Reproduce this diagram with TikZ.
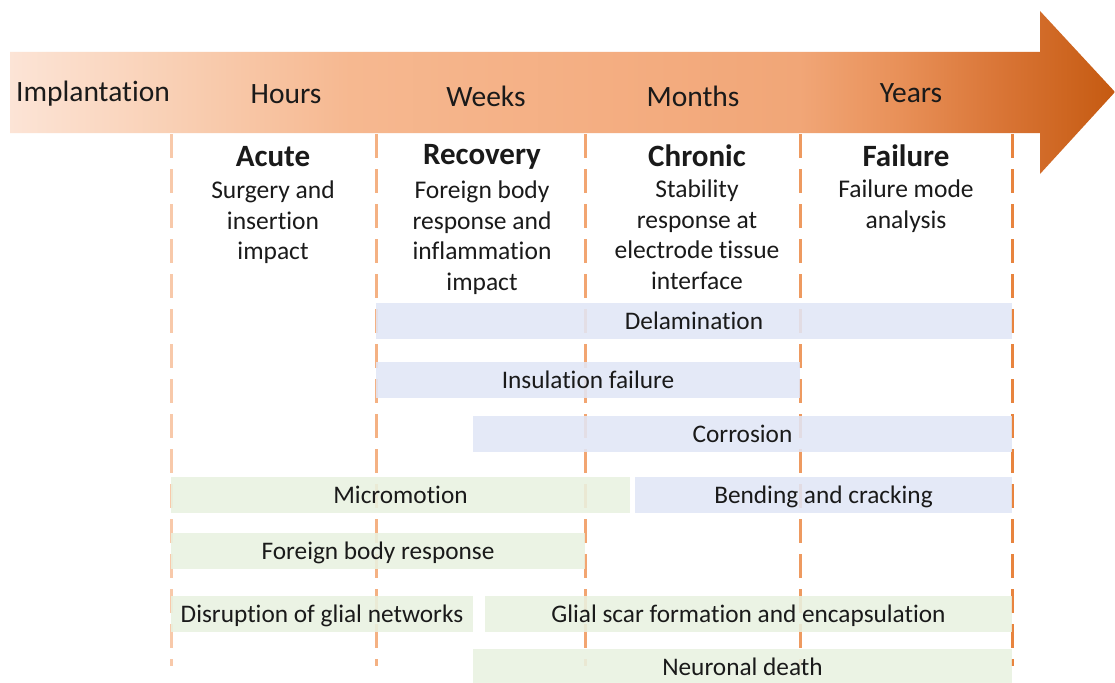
\documentclass[tikz,border=0pt]{standalone}
\usepackage{fontspec}
\setmainfont{Carlito}[Ligatures={NoCommon}]
\definecolor{arrL}{HTML}{FCE4D6}
\definecolor{arrB}{HTML}{F9D0B5}
\definecolor{arrC}{HTML}{F6B890}
\definecolor{arrM}{HTML}{F4AE82}
\definecolor{arrD}{HTML}{F1A677}
\definecolor{arrE}{HTML}{E89058}
\definecolor{arrF}{HTML}{D97536}
\definecolor{arrR}{HTML}{C55A11}
\pgfdeclarehorizontalshading{arrowshade}{100bp}{color(0bp)=(arrL); color(25bp)=(arrL); color(32.2bp)=(arrB); color(40.4bp)=(arrC); color(51.7bp)=(arrM); color(60.7bp)=(arrD); color(65.3bp)=(arrE); color(69.8bp)=(arrF); color(75bp)=(arrR); color(100bp)=(arrR)}
\definecolor{barblue}{HTML}{E1E6F6}
\definecolor{bargreen}{HTML}{E9F2E1}
\definecolor{dashA}{HTML}{F8C9AA}
\definecolor{dashB}{HTML}{F4B183}
\definecolor{dashC}{HTML}{F2A571}
\definecolor{dashD}{HTML}{EE9A60}
\definecolor{dashE}{HTML}{E8843E}
\definecolor{txt}{HTML}{1A1A1A}
\begin{document}
\begin{tikzpicture}[x=1pt,y=-1pt,
  hdr/.style={font=\fontsize{29.5}{30}\selectfont, text=txt, inner sep=0pt},
  ttl/.style={font=\fontsize{31}{32}\selectfont\bfseries, text=txt, inner sep=0pt},
  desc/.style={font=\fontsize{25.5}{30.5}\selectfont, text=txt, inner sep=0pt, align=center},
  bar/.style={inner sep=0pt, minimum height=36pt, text height=17pt, text depth=1pt, font=\fontsize{25.3}{30}\selectfont, text=txt, fill opacity=0.88, text opacity=1},
  bluebar/.style={bar, fill=barblue},
  greenbar/.style={bar, fill=bargreen},
  tick/.style={line width=3pt, dash pattern=on 24pt off 11pt}
]
\useasboundingbox (0,0) rectangle (1115,682);
\fill[white] (0,0) rectangle (1115,682);
% timeline arrow
\shade[shading=arrowshade]
  (10,52) -- (1040,52) -- (1040,11) -- (1115,92) -- (1040,174) -- (1040,133) -- (10,133) -- cycle;
% dashed dividers
\coordinate (d1t) at (171,134); \coordinate (d1b) at (171,666);
\coordinate (d2t) at (376,134); \coordinate (d2b) at (376,666);
\coordinate (d3t) at (585,134); \coordinate (d3b) at (585,666);
\coordinate (d4t) at (800,134); \coordinate (d4b) at (800,666);
\coordinate (d5t) at (1012,134); \coordinate (d5b) at (1012,666);
\draw[tick, draw=dashA] (d1t) -- (d1b);
\draw[tick, draw=dashB] (d2t) -- (d2b);
\draw[tick, draw=dashC] (d3t) -- (d3b);
\draw[tick, draw=dashD] (d4t) -- (d4b);
\draw[tick, draw=dashE] (d5t) -- (d5b);
% header labels
\node[hdr] (impl) at (93,94) {Implantation};
\node[hdr] (hours) at (286,94) {Hours};
\node[hdr] (weeks) at (486,96) {Weeks};
\node[hdr] (months) at (693,96) {Months};
\node[hdr] (years) at (911,93) {Years};
% phase titles
\node[ttl] (acute) at (273,157) {Acute};
\node[ttl] (recov) at (482,157) {Recovery};
\node[ttl] (chron) at (697,156) {Chronic};
\node[ttl] (fail) at (906,156) {Failure};
\node[desc, anchor=north] (acuted) at (273,181) {Surgery and\\insertion\\impact};
\node[desc, anchor=north] (recovd) at (482,181) {Foreign body\\response and\\inflammation\\impact};
\node[desc, anchor=north] (chrond) at (697,180) {Stability\\response at\\electrode tissue\\interface};
\node[desc, anchor=north] (faild) at (906,180) {Failure mode\\analysis};
% bars
\node[bluebar, minimum width=636pt] (delam) at (694,321) {Delamination};
\node[bluebar, minimum width=424pt] (insul) at (588,380) {Insulation failure};
\node[bluebar, minimum width=539pt] (corr) at (742.5,434) {Corrosion};
\node[greenbar, minimum width=459pt] (micro) at (400.5,495) {Micromotion};
\node[bluebar, minimum width=377pt] (bend) at (823.5,495) {Bending and cracking};
\node[greenbar, minimum width=414pt] (fbr) at (378,551) {Foreign body response};
\node[greenbar, minimum width=302pt] (disr) at (322,614) {Disruption of glial networks};
\node[greenbar, minimum width=527pt] (glial) at (748.5,614) {Glial scar formation and encapsulation};
\node[greenbar, minimum width=539pt] (neur) at (742.5,667) {Neuronal death};
\end{tikzpicture}
\end{document}
